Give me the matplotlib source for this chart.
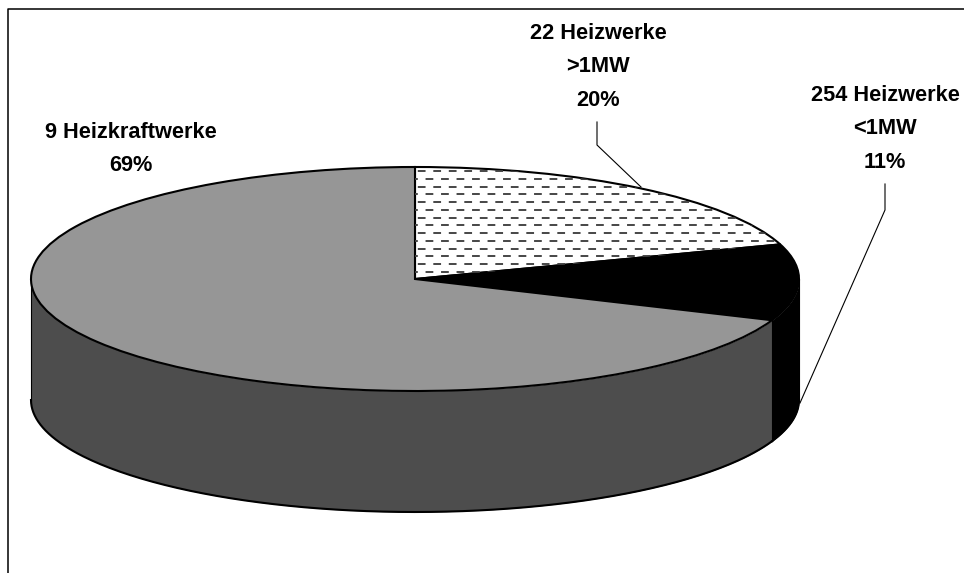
import numpy as np
import matplotlib
matplotlib.use("Agg")
import matplotlib.pyplot as plt
from matplotlib.lines import Line2D

categories = ["22 Heizwerke\n>1MW", "254 Heizwerke\n<1MW", "9 Heizkraftwerke"]
shares = [20, 11, 69]
top_colors = ["white", "black", "#969696"]
side_colors = ["white", "black", "#4d4d4d"]

W, H = 964, 573
plt.rcParams["font.family"] = ["Liberation Sans", "DejaVu Sans"]
plt.rcParams["lines.scale_dashes"] = False
fig = plt.figure(figsize=(W / 100, H / 100), dpi=100, facecolor="white")
ax = fig.add_axes([0, 0, 1, 1])

CX, CY, RX, RY, DEPTH = 415, 279, 384, 112, 121
wedges, _ = ax.pie(shares, colors=top_colors, startangle=90, counterclock=False,
                   wedgeprops=dict(edgecolor="black", linewidth=1.5, zorder=5))
ax.set_aspect("auto")
ax.set_xlim((0 - CX) / RX, (W - CX) / RX)
ax.set_ylim((CY - H) / RY, CY / RY)
ax.axis("off")

# cylinder sides, following the same shares
ends = 90 - 3.6 * np.cumsum(shares)
starts = np.r_[90, ends[:-1]]
d = DEPTH / RY
for a0, a1, col in zip(starts, ends, side_colors):
    hi, lo = min(a0, 0), max(a1, -180)
    if hi <= lo:
        continue
    t = np.radians(np.linspace(hi, lo, 200))
    ax.fill_between(np.cos(t), np.sin(t) - d, np.sin(t), color=col, lw=0, zorder=2)
    ax.plot(np.cos(t), np.sin(t) - d, color="black", lw=1.5, zorder=3)
for a in [0, ends[1], -180]:
    x = np.cos(np.radians(a)); y = np.sin(np.radians(a))
    ax.plot([x, x], [y, y - d], color="black", lw=0.8, zorder=3)

# dashed pattern on the first wedge
per = 15.5 * 0.72
for i, py in enumerate(np.arange(171, 272, 7.75)):
    off = (per / 2 * (i % 2) + 0.5, (per / 2, per / 2))
    ln, = ax.plot([(0 - CX) / RX, (W - CX) / RX], [(CY - py) / RY] * 2,
                  color="#404040", lw=1.35, linestyle=off, zorder=6)
    ln.set_clip_path(wedges[0])
for w in wedges:
    w.set_zorder(5)

def fig_xy(px, py):
    return px / W, 1 - py / H

def line(xs, ys, lw=0.8):
    fig.add_artist(Line2D([x / W for x in xs], [1 - y / H for y in ys],
                          color="black", lw=lw, zorder=1))

# frame
line([8, 8, W], [H, 9, 9], lw=1.1)
# leaders
line([597, 597, 641], [122, 145, 187])
line([885, 885, 800], [184, 210, 403])

pct = [f"{s}%" for s in shares]
pos = [(598, 67), (885, 129), (131, 149)]
for c, p, (x, y) in zip(categories, pct, pos):
    fx, fy = fig_xy(x, y)
    fig.text(fx, fy, f"{c}\n{p}", ha="center", va="center", ma="center",
             fontsize=15.7, fontweight="bold", linespacing=1.76, color="black")

fig.savefig("out.png", dpi=100, facecolor="white")
